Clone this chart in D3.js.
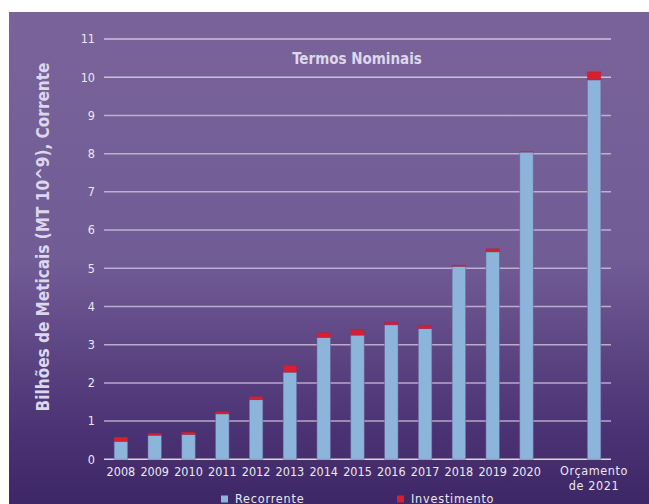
<!DOCTYPE html>
<html>
<head>
<meta charset="utf-8">
<script src="https://cdn.jsdelivr.net/npm/d3@7"></script>
<style>
  body { margin: 0; background: #fff; }
  svg text { font-family: "Liberation Sans Narrow", "DejaVu Sans Condensed", "Roboto", sans-serif; }
</style>
</head>
<body>
<div id="chart"></div>
<script>
// Data
const categories = ['2008', '2009', '2010', '2011', '2012', '2013', '2014', '2015', '2016', '2017', '2018', '2019', '2020', '', 'Orçamento de 2021'];
const recorrente = [0.47, 0.63, 0.65, 1.19, 1.56, 2.28, 3.19, 3.25, 3.52, 3.42, 5.05, 5.43, 8.04, null, 9.93];
const investimento = [0.11, 0.05, 0.06, 0.06, 0.08, 0.18, 0.13, 0.15, 0.07, 0.08, 0.03, 0.08, 0.01, null, 0.21];
const yTicks = [0, 1, 2, 3, 4, 5, 6, 7, 8, 9, 10, 11];
const seriesNames = ['Recorrente', 'Investimento'];
const seriesColors = ['#8db4da', '#d81e2f'];

const width = 649, height = 504;
const svg = d3.select('#chart').append('svg')
    .attr('width', width)
    .attr('height', height);

// Background panel with gradient
const defs = svg.append('defs');
const grad = defs.append('linearGradient')
    .attr('id', 'bg')
    .attr('x1', 0).attr('y1', 0).attr('x2', 0).attr('y2', 1);
grad.append('stop').attr('offset', '0%').attr('stop-color', '#796399');
grad.append('stop').attr('offset', '50%').attr('stop-color', '#725c96');
grad.append('stop').attr('offset', '85%').attr('stop-color', '#4b3274');
grad.append('stop').attr('offset', '100%').attr('stop-color', '#3e2766');

svg.append('rect')
    .attr('x', 9).attr('y', 12)
    .attr('width', width - 9).attr('height', height - 12)
    .attr('fill', 'url(#bg)');

const x = d3.scaleBand()
    .domain(categories.map((c, i) => i))
    .range([104, 611])
    .paddingInner(0.6)
    .paddingOuter(0.3);

const y = d3.scaleLinear()
    .domain([0, 11])
    .range([459.3, 39]);

// Gridlines
svg.append('g')
    .selectAll('line')
    .data(yTicks)
    .enter()
    .append('line')
    .attr('x1', 104)
    .attr('x2', 611)
    .attr('y1', d => y(d))
    .attr('y2', d => y(d))
    .attr('stroke', d => d === 0 ? '#ffffff' : '#cfc6df')
    .attr('stroke-opacity', d => d >= 10 ? 0.95 : 0.8)
    .attr('stroke-width', 1.5);

// Y tick labels
svg.append('g')
    .selectAll('text')
    .data(yTicks)
    .enter()
    .append('text')
    .attr('x', 95)
    .attr('y', d => y(d))
    .attr('dy', '0.35em')
    .attr('text-anchor', 'end')
    .attr('fill', '#ebe7f2')
    .attr('font-size', 12.5)
    .text(d => d);

// Stacked bars
const barData = categories.map((c, i) => ({ i, rec: recorrente[i], inv: investimento[i] }))
    .filter(d => d.rec !== null);

const bars = svg.append('g');
bars.selectAll('.rec')
    .data(barData)
    .enter()
    .append('rect')
    .attr('class', 'rec')
    .attr('x', d => x(d.i))
    .attr('width', x.bandwidth())
    .attr('y', d => y(d.rec))
    .attr('height', d => y(0) - y(d.rec))
    .attr('fill', seriesColors[0])
    .attr('stroke', '#6a5a94')
    .attr('stroke-opacity', 0.6)
    .attr('stroke-width', 0.8);

bars.selectAll('.inv')
    .data(barData.filter(d => d.inv > 0))
    .enter()
    .append('rect')
    .attr('class', 'inv')
    .attr('x', d => x(d.i))
    .attr('width', x.bandwidth())
    .attr('y', d => y(d.rec + d.inv))
    .attr('height', d => y(d.rec) - y(d.rec + d.inv))
    .attr('fill', seriesColors[1])
    .attr('stroke', '#8a3050')
    .attr('stroke-opacity', 0.5)
    .attr('stroke-width', 0.6);

// X labels
const xl = svg.append('g');
categories.forEach((c, i) => {
    if (!c) return;
    const cx = x(i) + x.bandwidth() / 2;
    const t = xl.append('text')
        .attr('x', cx)
        .attr('text-anchor', 'middle')
        .attr('fill', '#ebe7f2')
        .attr('font-size', 12.5);
    if (c.indexOf(' de ') > 0) {
        const parts = c.split(' de ');
        t.attr('letter-spacing', 0.6);
        t.append('tspan').attr('x', cx).attr('y', 475).text(parts[0]);
        t.append('tspan').attr('x', cx).attr('y', 490).text('de ' + parts[1]);
    } else {
        t.attr('y', 476).text(c);
    }
});

// Title
svg.append('text')
    .attr('x', 357)
    .attr('y', 64)
    .attr('text-anchor', 'middle')
    .attr('font-weight', 'bold')
    .attr('font-size', 15)
    .attr('fill', '#ddd7ec')
    .text('Termos Nominais');

// Y axis title
svg.append('text')
    .attr('transform', 'translate(49, 237) rotate(-90)')
    .attr('text-anchor', 'middle')
    .attr('font-weight', 'bold')
    .attr('font-size', 17)
    .attr('fill', '#ddd7ec')
    .text('Bilhões de Meticais (MT 10^9), Corrente');

// Legend
const legendX = [221, 397];
const legend = svg.append('g');
seriesNames.forEach((name, i) => {
    legend.append('rect')
        .attr('x', legendX[i])
        .attr('y', 495.5)
        .attr('width', 7)
        .attr('height', 7)
        .attr('fill', seriesColors[i]);
    legend.append('text')
        .attr('x', legendX[i] + 14)
        .attr('y', 502.5)
        .attr('fill', '#ebe7f2')
        .attr('font-size', 12.5)
        .attr('letter-spacing', 0.8)
        .text(name);
});
</script>
</body>
</html>
